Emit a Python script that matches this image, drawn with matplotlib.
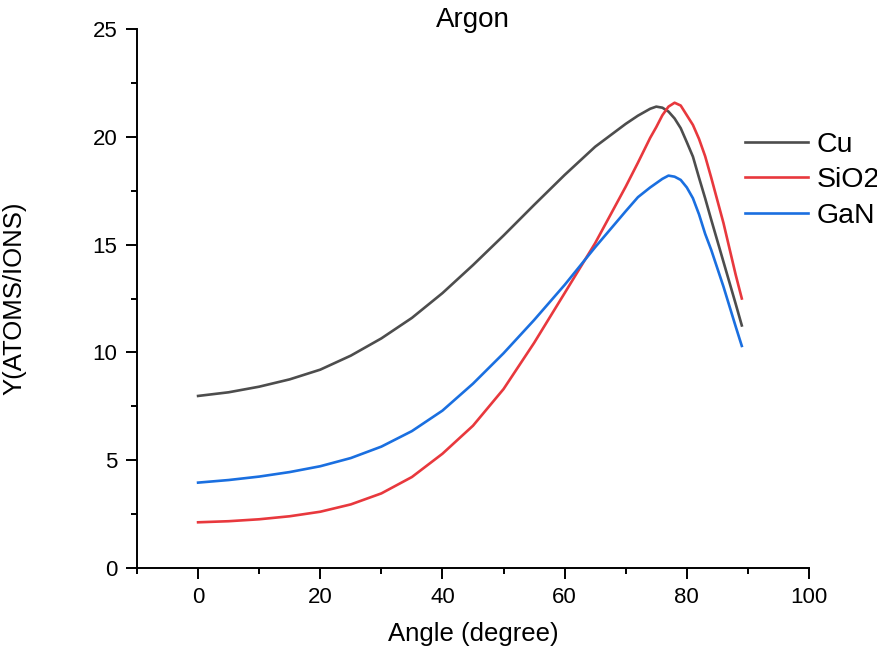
import matplotlib
matplotlib.use('Agg')
import matplotlib.pyplot as plt
from matplotlib.ticker import MultipleLocator

plt.rcParams['font.family'] = ['Liberation Sans', 'DejaVu Sans']

angle = [0, 5, 10, 15, 20, 25, 30, 35, 40, 45, 50, 55, 60, 65, 70,
         72, 74, 75, 76, 77, 78, 79, 80, 81, 82, 83, 84, 86, 88, 89]
cu = [7.98, 8.15, 8.41, 8.75, 9.2, 9.85, 10.65, 11.6, 12.75, 14.05, 15.42, 16.84, 18.23, 19.54, 20.6,
      20.98, 21.3, 21.4, 21.35, 21.17, 20.85, 20.4, 19.75, 19.08, 18.1, 17.15, 16.15, 14.2, 12.25, 11.25]
sio2 = [2.12, 2.17, 2.26, 2.4, 2.61, 2.95, 3.46, 4.22, 5.3, 6.6, 8.3, 10.44, 12.75, 15.07, 17.69,
        18.8, 19.95, 20.45, 21.0, 21.4, 21.58, 21.45, 21.0, 20.55, 19.9, 19.1, 18.1, 16.0, 13.6, 12.5]
gan = [3.96, 4.08, 4.24, 4.45, 4.72, 5.1, 5.63, 6.35, 7.3, 8.55, 9.96, 11.5, 13.13, 14.88, 16.55,
       17.2, 17.65, 17.85, 18.05, 18.2, 18.15, 18.0, 17.65, 17.15, 16.4, 15.5, 14.75, 13.05, 11.2, 10.3]

fig = plt.figure(figsize=(8.78, 6.5), dpi=100)
ax = fig.add_axes([137 / 878, 82 / 650, 672 / 878, 539 / 650])

ax.plot(angle, cu, color='#4d4d4d', lw=1.9, label='Cu')
ax.plot(angle, sio2, color='#e8383d', lw=1.9, label='SiO2')
ax.plot(angle, gan, color='#1a6fe0', lw=1.9, label='GaN')

ax.set_xlim(-10, 100)
ax.set_ylim(0, 25)
ax.set_xticks([0, 20, 40, 60, 80, 100])
ax.set_yticks([0, 5, 10, 15, 20, 25])
ax.xaxis.set_minor_locator(MultipleLocator(10))
ax.yaxis.set_minor_locator(MultipleLocator(2.5))

ax.spines['top'].set_visible(False)
ax.spines['right'].set_visible(False)
for s in ['left', 'bottom']:
    ax.spines[s].set_linewidth(1.4)
ax.tick_params(which='major', length=8, width=1.4, labelsize=16, pad=6)
ax.tick_params(which='minor', length=4, width=1.4)

ax.set_xlabel('Angle (degree)', fontsize=18.5, labelpad=9.5)
ax.set_ylabel('Y(ATOMS/IONS)', fontsize=18.5, labelpad=48)
# explicit y stops matplotlib from pushing the title above the "25" label
ax.set_title('Argon', fontsize=20, y=1.0, pad=1.5)

ax.legend(loc='upper left', bbox_to_anchor=(745 / 878, 1 - 132 / 650),
          bbox_transform=fig.transFigure, frameon=False, fontsize=20.5,
          borderpad=0, borderaxespad=0, handlelength=2.2, handletextpad=0.3,
          labelspacing=0.33)

fig.savefig('out.png', dpi=100)
